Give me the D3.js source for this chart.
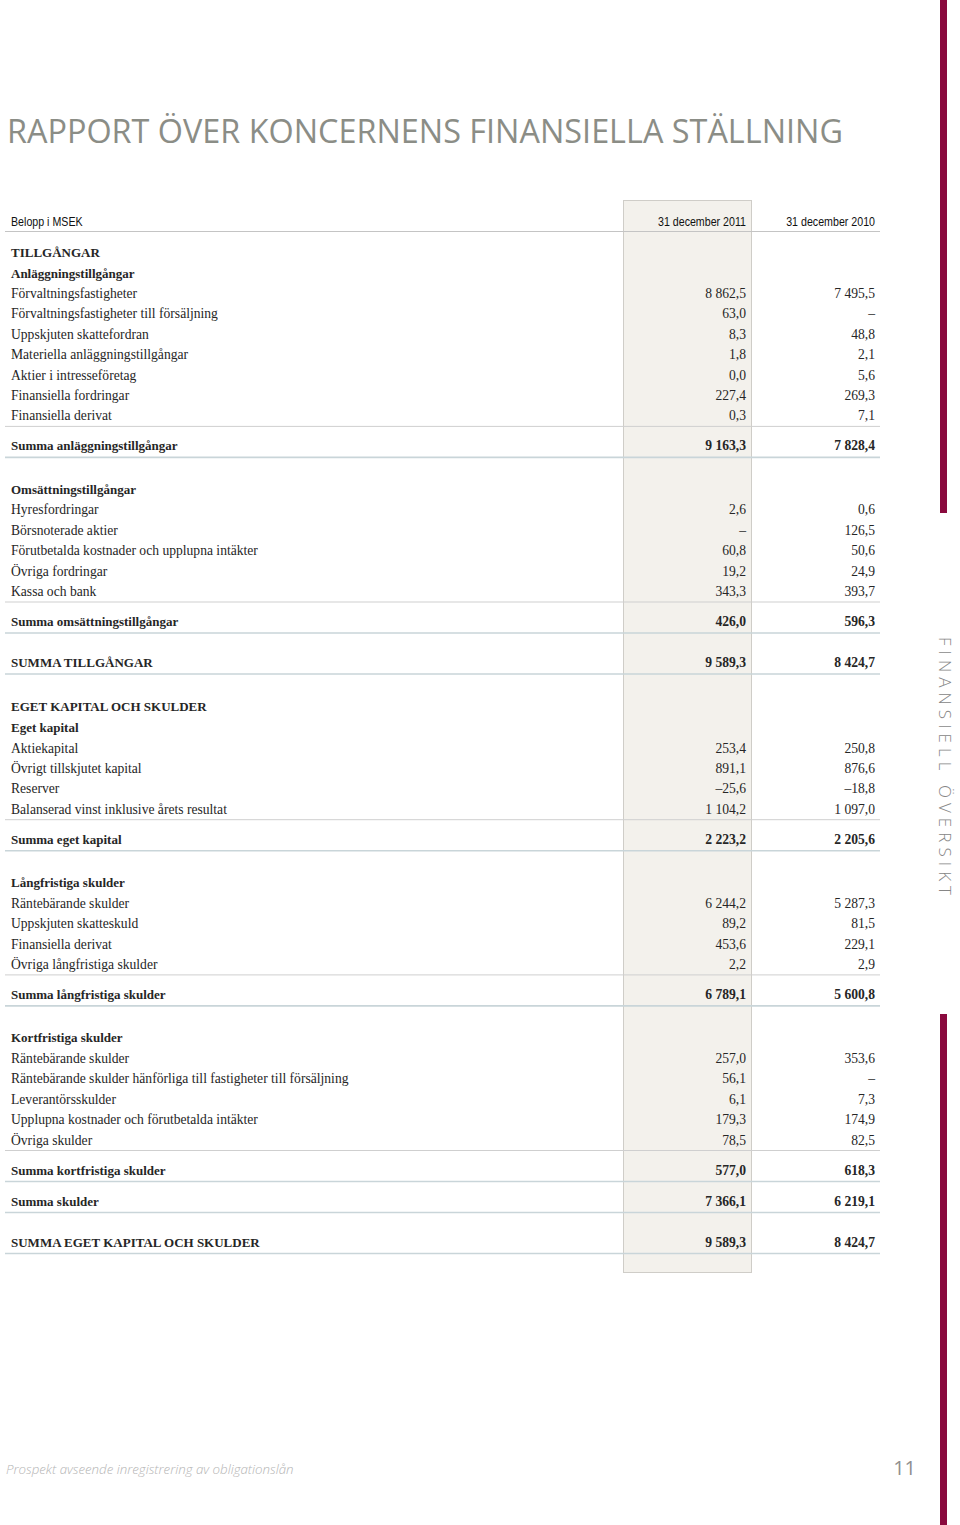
<!DOCTYPE html>
<html><head><meta charset="utf-8">
<script src="https://cdn.jsdelivr.net/npm/d3@7"></script>
<style>
html,body{margin:0;padding:0;background:#fff;}
svg{display:block;}
</style></head>
<body>
<script>
// ---- data ----
const title = "RAPPORT ÖVER KONCERNENS FINANSIELLA STÄLLNING";
const unitLabel = "Belopp i MSEK";
const columns = ["31 december 2011", "31 december 2010"];
const rowLabels = [
  "TILLGÅNGAR","Anläggningstillgångar","Förvaltningsfastigheter","Förvaltningsfastigheter till försäljning",
  "Uppskjuten skattefordran","Materiella anläggningstillgångar","Aktier i intresseföretag","Finansiella fordringar",
  "Finansiella derivat","Summa anläggningstillgångar","Omsättningstillgångar","Hyresfordringar","Börsnoterade aktier",
  "Förutbetalda kostnader och upplupna intäkter","Övriga fordringar","Kassa och bank","Summa omsättningstillgångar",
  "SUMMA TILLGÅNGAR","EGET KAPITAL OCH SKULDER","Eget kapital","Aktiekapital","Övrigt tillskjutet kapital","Reserver",
  "Balanserad vinst inklusive årets resultat","Summa eget kapital","Långfristiga skulder","Räntebärande skulder",
  "Uppskjuten skatteskuld","Finansiella derivat","Övriga långfristiga skulder","Summa långfristiga skulder",
  "Kortfristiga skulder","Räntebärande skulder","Räntebärande skulder hänförliga till fastigheter till försäljning",
  "Leverantörsskulder","Upplupna kostnader och förutbetalda intäkter","Övriga skulder","Summa kortfristiga skulder",
  "Summa skulder","SUMMA EGET KAPITAL OCH SKULDER"
];
const rowKinds = [
  "section","group","item","item","item","item","item","item","item","sum","group","item","item","item","item","item","sum",
  "total","section","group","item","item","item","item","sum","group","item","item","item","item","sum",
  "group","item","item","item","item","item","sum","sum","total"
];
const values2011 = [
  null,null,8862.5,63.0,8.3,1.8,0.0,227.4,0.3,9163.3,null,2.6,null,60.8,19.2,343.3,426.0,
  9589.3,null,null,253.4,891.1,-25.6,1104.2,2223.2,null,6244.2,89.2,453.6,2.2,6789.1,
  null,257.0,56.1,6.1,179.3,78.5,577.0,7366.1,9589.3
];
const values2010 = [
  null,null,7495.5,null,48.8,2.1,5.6,269.3,7.1,7828.4,null,0.6,126.5,50.6,24.9,393.7,596.3,
  8424.7,null,null,250.8,876.6,-18.8,1097.0,2205.6,null,5287.3,81.5,229.1,2.9,5600.8,
  null,353.6,null,7.3,174.9,82.5,618.3,6219.1,8424.7
];
const sideLabel = "FINANSIELL ÖVERSIKT";
const footerText = "Prospekt avseende inregistrering av obligationslån";
const pageNumber = "11";

// ---- layout / style ----
const W = 960, H = 1525;
const svg = d3.select("body").append("svg").attr("width", W).attr("height", H);

const loc = d3.formatLocale({decimal:",", thousands:"\u2009", grouping:[3], currency:["",""], minus:"\u2013"});
const fmt = v => v === null ? "\u2013" : loc.format(",.1f")(v).replace("\u2009"," ");

const serif = "'Liberation Serif','Times New Roman',serif";
const condensed = "'Liberation Sans','Arial',sans-serif";
const sans = "'Open Sans','Noto Sans',sans-serif";
const textCol = "#262626";
const fs = 13.6;
const fsBold = 13;
const squeeze = 0.82;

// step between rows depends on kind transition
const stepMap = {
  "section>group":21,"group>item":20.5,"item>item":20.4,"item>sum":30,
  "sum>group":43.5,"sum>total":41,"sum>sum":31,"total>section":44
};
const offs = [0];
for (let i = 1; i < rowKinds.length; i++) {
  offs.push(offs[i-1] + (stepMap[rowKinds[i-1] + ">" + rowKinds[i]] || 20.4));
}
const y = d3.scaleLinear().domain([0, offs[offs.length-1]]).range([252, 252 + offs[offs.length-1]]);
const xCol = d3.scaleOrdinal().domain(columns).range([746, 875]);
const colValues = [values2011, values2010];

// highlighted column
svg.append("rect").attr("x", 623.5).attr("y", 200.5).attr("width", 128).attr("height", 1072)
  .attr("fill", "#f3f1ec").attr("stroke", "#cfcdc8").attr("stroke-width", 1);

// title
svg.append("text").attr("x", 7).attr("y", 143).text(title)
  .attr("font-family", sans).attr("font-size", 32).attr("fill", "#8b8d86")
  .attr("textLength", 836).attr("lengthAdjust", "spacingAndGlyphs");

// header (condensed look)
svg.append("text").attr("transform", `translate(11,226) scale(${squeeze},1)`).text(unitLabel)
  .attr("font-family", condensed).attr("font-size", 13).attr("fill", "#111");
svg.selectAll("text.colhead").data(columns).join("text").attr("class","colhead")
  .attr("transform", d => `translate(${xCol(d)},226) scale(${squeeze},1)`)
  .attr("text-anchor","end").text(d => d)
  .attr("font-family", condensed).attr("font-size", 13).attr("fill", "#111");
svg.append("line").attr("x1", 5).attr("x2", 880).attr("y1", 231.5).attr("y2", 231.5)
  .attr("stroke", "#c4c4c4").attr("stroke-width", 1);

// separator lines
const lines = [];
rowKinds.forEach((k, i) => {
  if ((k === "sum" || k === "total")) {
    if (rowKinds[i-1] === "item") lines.push({y: y(offs[i]) - 19.5, c: "#cfcfcf", w: 1});
    lines.push({y: y(offs[i]) + 11.5, c: "#c9d5d9", w: 1.6});
  }
});
svg.selectAll("line.sep").data(lines).join("line").attr("class","sep")
  .attr("x1", 5).attr("x2", 880).attr("y1", d => d.y).attr("y2", d => d.y)
  .attr("stroke", d => d.c).attr("stroke-width", d => d.w);

// rows
const rows = svg.selectAll("g.row").data(rowLabels.map((l, i) => ({l, i, k: rowKinds[i]})))
  .join("g").attr("class","row").attr("transform", d => `translate(0,${y(offs[d.i]) + 4.5})`);
rows.append("text").attr("x", 11).text(d => d.l)
  .attr("font-family", serif).attr("font-size", d => d.k === "item" ? fs : fsBold).attr("fill", textCol)
  .attr("font-weight", d => d.k === "item" ? "normal" : "bold");
columns.forEach((c, ci) => {
  rows.filter(d => d.k === "item" || d.k === "sum" || d.k === "total")
    .append("text").attr("x", xCol(c)).attr("text-anchor","end")
    .text(d => fmt(colValues[ci][d.i]))
    .attr("font-family", serif).attr("font-size", fs).attr("fill", textCol)
    .attr("font-weight", d => d.k === "item" ? "normal" : "bold");
});

// right side bar
const barCol = "#8a0a3e";
svg.append("rect").attr("x", 940).attr("y", 0).attr("width", 7).attr("height", 513).attr("fill", barCol);
svg.append("rect").attr("x", 940).attr("y", 1014).attr("width", 7).attr("height", H - 1014).attr("fill", barCol);
svg.append("text").attr("transform", "translate(939,637) rotate(90)").text(sideLabel)
  .attr("font-family", sans).attr("font-weight", 300).attr("font-size", 17).attr("fill", "#868686")
  .attr("textLength", 258).attr("lengthAdjust", "spacing");

// footer
svg.append("text").attr("x", 6).attr("y", 1474).text(footerText)
  .attr("font-family", sans).attr("font-style", "italic").attr("font-weight", 300)
  .attr("font-size", 13.3).attr("fill", "#b4b4b4");
svg.append("text").attr("x", 916).attr("y", 1475).attr("text-anchor","end").text(pageNumber)
  .attr("font-family", sans).attr("font-size", 20).attr("fill", "#8f8f8f");
</script>
</body></html>
